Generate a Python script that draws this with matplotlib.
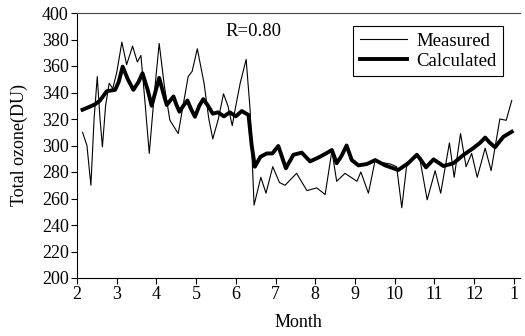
import matplotlib
matplotlib.use("Agg")
import matplotlib.pyplot as plt

plt.rcParams['font.family'] = ['Liberation Serif', 'DejaVu Serif']

meas_x = [2.14, 2.25, 2.35, 2.43, 2.51, 2.58, 2.64, 2.72, 2.81, 2.90, 3.00, 3.13, 3.25, 3.40, 3.52, 3.61,
          3.72, 3.82, 3.95, 4.07, 4.20, 4.34, 4.55, 4.70, 4.80, 4.90, 5.03, 5.20, 5.32, 5.42, 5.56, 5.69,
          5.80, 5.91, 6.00, 6.11, 6.26, 6.36, 6.46, 6.63, 6.76, 6.93, 7.10, 7.24, 7.53, 7.79, 8.04, 8.25,
          8.42, 8.54, 8.75, 8.90, 9.05, 9.15, 9.34, 9.51, 9.70, 9.90, 10.05, 10.18, 10.30, 10.45, 10.56,
          10.64, 10.82, 11.02, 11.16, 11.38, 11.50, 11.66, 11.80, 11.94, 12.08, 12.28, 12.43, 12.65,
          12.81, 12.95]
meas_y = [310, 300, 270, 320, 352, 320, 299, 330, 347, 343, 355, 378, 361, 375, 363, 368,
          330, 294, 340, 377, 345, 319, 309, 335, 352, 356, 373, 347, 320, 305, 320, 339,
          330, 315, 330, 347, 365, 327, 255, 276, 264, 284, 272, 270, 279, 266, 268, 263,
          296, 273, 279, 276, 273, 280, 264, 289, 287, 286, 284, 253, 284, 290, 293,
          289, 259, 281, 264, 302, 276, 309, 284, 294, 276, 298, 281, 320,
          319, 334]

calc_x = [2.14, 2.30, 2.45, 2.58, 2.75, 2.96, 3.05, 3.15, 3.28, 3.42, 3.55, 3.65, 3.78, 3.88, 3.97,
          4.07, 4.17, 4.26, 4.35, 4.43, 4.50, 4.58, 4.68, 4.78, 4.88, 4.97, 5.08, 5.18, 5.30, 5.42,
          5.55, 5.70, 5.85, 6.00, 6.15, 6.32, 6.40, 6.48, 6.62, 6.78, 6.92, 7.07, 7.26, 7.45, 7.66,
          7.87, 8.12, 8.33, 8.42, 8.54, 8.66, 8.79, 8.92, 9.09, 9.30, 9.51, 9.76, 10.09, 10.34, 10.56,
          10.64, 10.79, 10.98, 11.23, 11.48, 11.73, 11.98, 12.15, 12.28, 12.40, 12.53, 12.74, 12.95]
calc_y = [327, 329, 331, 334, 341, 342, 348, 359.5, 350, 342, 348, 354.5, 342, 330, 340,
          351, 340, 330.6, 334, 337, 331, 325.5, 330, 334, 327, 321.7, 330, 335, 330, 324,
          325, 322, 325, 322, 326, 323, 300, 284, 291.5, 294, 294, 299.6, 282.8, 293, 294.6,
          288, 291.5, 295, 296.6, 286.6, 292, 300, 289, 285, 286, 289, 285, 281.5, 286.6, 293,
          290, 283.5, 289.5, 284.5, 286.6, 292.8, 298, 302, 306, 302, 298.7, 306.6, 310.4]

xticks = list(range(2, 14))
xtick_labels = ['2', '3', '4', '5', '6', '7', '8', '9', '10', '11', '12', '1']
yticks = list(range(200, 401, 20))

fig = plt.figure(figsize=(5.25, 3.36), dpi=100)
ax = fig.add_axes([77/525, 1-278/336, (519.7-77)/525, (278-13)/336])

ax.plot(meas_x, meas_y, color='black', lw=0.8, label='Measured', solid_joinstyle='round')
ax.plot(calc_x, calc_y, color='black', lw=2.8, label='Calculated', solid_joinstyle='round')

ax.set_xlim(2, 13.15)
ax.set_ylim(200, 400)
ax.set_xticks(xticks)
ax.set_xticklabels(xtick_labels)
ax.set_yticks(yticks)
ax.tick_params(labelsize=13, length=4, width=0.8, pad=2)
ax.spines['right'].set_visible(False)
ax.spines['top'].set_linewidth(0.8)
ax.spines['top'].set_color('#444444')
ax.set_xlabel('Month', fontsize=13, labelpad=8)
ax.set_ylabel('Total ozone(DU)', fontsize=13, labelpad=10)

ax.text(5.75, 386, 'R=0.80', fontsize=13.5, va='center', ha='left')

leg = ax.legend(loc='upper right', bbox_to_anchor=(0.962, 0.951), fontsize=13.5,
                frameon=True, fancybox=False, edgecolor='black', framealpha=1,
                handlelength=2.5, handletextpad=0.5, borderpad=0.35, labelspacing=0.15,
                borderaxespad=0)
leg.get_frame().set_linewidth(0.8)

fig.savefig('out.png', dpi=100)
